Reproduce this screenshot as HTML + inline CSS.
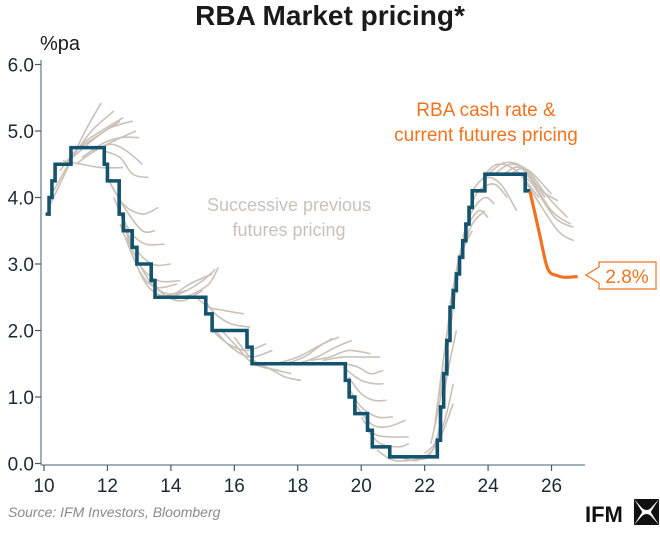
<!DOCTYPE html>
<html><head><meta charset="utf-8"><style>
body{margin:0;background:#fff;width:660px;height:528px;overflow:hidden;font-family:"Liberation Sans",sans-serif}
</style></head><body>
<svg width="660" height="528" viewBox="0 0 660 528" font-family="Liberation Sans, sans-serif">
<text x="330" y="25" text-anchor="middle" font-size="28" font-weight="bold" fill="#1a1a1a">RBA Market pricing*</text>
<text x="40" y="50" font-size="20" fill="#1a1a1a">%pa</text>
<g id="grey"></g>
<g id="axes"></g>
<g id="main"></g>
<text x="289" y="211" text-anchor="middle" font-size="18" fill="#cbc1b8">Successive previous</text>
<text x="289" y="236" text-anchor="middle" font-size="18" fill="#cbc1b8">futures pricing</text>
<text x="486" y="116" text-anchor="middle" font-size="19" fill="#f07320">RBA cash rate &amp;</text>
<text x="486" y="141" text-anchor="middle" font-size="19" fill="#f07320">current futures pricing</text>
<g>
<path d="M586,275 L599,267 L599,262 L656,262 L656,289 L599,289 L599,283 Z" fill="#fff" stroke="#f07320" stroke-width="1.2"/>
<text x="627" y="283" text-anchor="middle" font-size="19" fill="#f07320">2.8%</text>
</g>
<text x="8" y="517" font-size="14" font-style="italic" fill="#8a8a8a">Source: IFM Investors, Bloomberg</text>
<g>
<text x="585" y="522" font-size="22" font-weight="bold" fill="#111">IFM</text>
<path d="M634,499 L659,499 L651,508 Q646.5,512 642,508 Z M634,525 L659,525 L651,516 Q646.5,512 642,516 Z M634,499 L634,525 L641,514 Q643,512 641,510 Z M659,499 L659,525 L652,514 Q650,512 652,510 Z" fill="#111"/>
</g>
</svg>
<script>
const yTicks=[0,1,2,3,4,5,6];
const xTicks=[10,12,14,16,18,20,22,24,26];
const stepYears=[10.05,10.16,10.25,10.35,10.85,11.9,12.0,12.37,12.5,12.78,12.93,13.38,13.5,15.1,15.3,16.4,16.56,19.5,19.62,19.8,20.2,20.35,20.9,22.4,22.5,22.6,22.7,22.8,22.9,23.0,23.1,23.2,23.3,23.4,23.5,23.9,25.17,25.33];
const stepRates=[3.75,4.0,4.25,4.5,4.75,4.5,4.25,3.75,3.5,3.25,3.0,2.75,2.5,2.25,2.0,1.75,1.5,1.25,1.0,0.75,0.5,0.25,0.1,0.35,0.85,1.35,1.85,2.35,2.6,2.85,3.1,3.35,3.6,3.85,4.1,4.35,4.1,4.1];
const futYears=[25.33,25.6,25.82,25.96,26.15,26.4,26.78];
const futRates=[4.07,3.5,3.02,2.87,2.83,2.8,2.81];
const greyCurves=[
[[10.2,3.9],[10.8,4.5],[11.3,5.0],[11.8,5.42]],
[[10.3,4.1],[10.9,4.6],[11.5,5.0],[12.2,5.3]],
[[10.5,4.4],[11.0,4.7],[11.6,4.9],[12.4,5.15]],
[[10.7,4.5],[11.2,4.8],[11.8,5.0],[12.5,5.2]],
[[10.9,4.6],[11.5,4.85],[12.1,5.05],[12.8,5.15]],
[[11.0,4.5],[11.6,4.7],[12.2,4.85],[12.9,5.0]],
[[11.2,4.6],[11.8,4.8],[12.4,4.9],[13.0,4.9]],
[[10.6,4.55],[11.2,4.5],[11.8,4.45],[12.5,4.45]],
[[11.5,4.7],[12.1,4.8],[12.6,4.7],[13.1,4.5]],
[[11.9,4.7],[12.4,4.6],[12.8,4.35],[13.3,4.3]],
[[12.0,4.3],[12.5,3.9],[13.1,3.75],[13.6,3.85]],
[[12.1,4.2],[12.6,3.8],[13.1,3.5],[13.5,3.5]],
[[12.2,4.0],[12.7,3.5],[13.2,3.3],[13.8,3.3]],
[[12.3,3.9],[12.8,3.3],[13.4,3.0],[14.0,3.0]],
[[12.5,3.6],[13.0,3.0],[13.6,2.75],[14.3,2.75]],
[[12.6,3.4],[13.0,2.9],[13.5,2.65],[14.2,2.7]],
[[12.4,3.6],[12.9,3.0],[13.3,2.65],[13.8,2.5]],
[[13.0,3.0],[13.4,2.7],[13.9,2.55],[14.5,2.6]],
[[13.4,2.7],[13.9,2.5],[14.4,2.45],[15.0,2.6]],
[[13.6,2.5],[14.1,2.55],[14.6,2.7],[15.3,2.85]],
[[14.0,2.5],[14.5,2.6],[15.0,2.75],[15.4,2.92]],
[[14.3,2.5],[14.7,2.55],[15.2,2.7],[15.5,2.95]],
[[14.8,2.5],[15.2,2.35],[15.7,2.3],[16.3,2.25]],
[[15.0,2.5],[15.4,2.25],[15.9,2.1],[16.5,2.05]],
[[15.3,2.0],[15.8,1.8],[16.4,1.7],[17.0,1.8]],
[[15.4,2.0],[15.9,1.75],[16.5,1.6],[17.2,1.7]],
[[15.6,2.0],[16.0,1.8],[16.6,1.5],[17.4,1.4]],
[[16.0,1.9],[16.5,1.6],[17.0,1.45],[17.8,1.35]],
[[16.5,1.5],[17.0,1.45],[17.6,1.3],[18.1,1.25]],
[[17.3,1.5],[18.0,1.6],[18.6,1.75],[19.1,1.88]],
[[17.6,1.5],[18.2,1.6],[18.8,1.8],[19.3,1.9]],
[[18.0,1.5],[18.6,1.6],[19.2,1.75],[19.7,1.85]],
[[18.4,1.55],[19.0,1.6],[19.6,1.7],[20.3,1.65]],
[[18.8,1.55],[19.4,1.6],[20.0,1.6],[20.6,1.6]],
[[19.5,1.5],[19.9,1.45],[20.3,1.35],[20.7,1.4]],
[[19.55,1.4],[20.0,1.25],[20.4,1.2],[20.7,1.2]],
[[19.6,1.3],[20.0,1.05],[20.4,0.95],[20.8,0.95]],
[[19.65,1.1],[20.0,0.85],[20.5,0.7],[21.0,0.7]],
[[19.8,0.9],[20.3,0.6],[20.8,0.55],[21.4,0.65]],
[[20.0,0.7],[20.4,0.45],[20.9,0.4],[21.5,0.4]],
[[20.2,0.5],[20.6,0.3],[21.2,0.25],[21.5,0.3]],
[[20.5,0.2],[21.0,0.05],[21.6,0.05],[22.1,0.1]],
[[21.2,0.1],[21.8,0.05],[22.4,0.3],[22.9,0.9]],
[[21.6,0.1],[22.1,0.1],[22.6,0.6],[22.9,1.2]],
[[22.0,0.15],[22.4,0.4],[22.7,1.3],[23.0,2.0]],
[[22.2,0.3],[22.5,1.0],[22.8,2.0],[23.05,2.8]],
[[22.3,0.5],[22.6,1.6],[22.9,2.5],[23.2,3.2]],
[[22.45,1.0],[22.75,2.1],[23.1,3.0],[23.4,3.5]],
[[22.6,1.6],[22.9,2.6],[23.2,3.2],[23.5,3.5]],
[[22.8,2.4],[23.1,3.1],[23.5,3.6],[23.9,3.8]],
[[23.0,2.9],[23.3,3.5],[23.7,3.8],[24.0,3.7]],
[[23.2,3.4],[23.5,3.8],[23.9,4.0],[24.2,3.9]],
[[23.4,3.8],[23.7,4.1],[24.2,4.2],[24.6,4.0]],
[[23.5,4.1],[23.9,4.3],[24.4,4.2],[24.9,3.8]],
[[23.9,4.35],[24.3,4.5],[24.9,4.4],[25.6,4.0]],
[[24.0,4.35],[24.5,4.52],[25.1,4.45],[25.8,4.0]],
[[24.2,4.35],[24.7,4.5],[25.3,4.4],[26.0,4.05]],
[[24.5,4.35],[25.0,4.45],[25.7,4.1],[26.2,3.95]],
[[24.7,4.35],[25.2,4.42],[25.9,4.0],[26.5,3.7]],
[[24.9,4.35],[25.3,4.3],[26.0,3.8],[26.6,3.6]],
[[25.0,4.35],[25.4,4.2],[26.1,3.7],[26.7,3.55]],
[[25.1,4.3],[25.5,4.0],[26.2,3.5],[26.7,3.35]]
];
const X=t=>44+(t-10)*31.72, Y=r=>463.5-r*66.5;
const NS='http://www.w3.org/2000/svg';
function mk(tag,attrs,parent){const e=document.createElementNS(NS,tag);for(const k in attrs)e.setAttribute(k,attrs[k]);parent.appendChild(e);return e;}
const axes=document.getElementById('axes');
const ya=mk('line',{x1:41,y1:60,x2:41,y2:465,stroke:'#7f95a0','stroke-width':1.5},axes);


const xa=mk('line',{x1:41,y1:465,x2:585,y2:465,stroke:'#7f95a0','stroke-width':1.5},axes);


yTicks.forEach(v=>{
 mk('line',{x1:35,x2:41,y1:Y(v),y2:Y(v),stroke:'#555','stroke-width':1.2},axes);
 const t=mk('text',{x:34,y:Y(v)+7,'text-anchor':'end','font-size':19,fill:'#1a2a35'},axes);
 t.textContent=v.toFixed(1);
 
 
});
xTicks.forEach(v=>{
 mk('line',{x1:X(v),x2:X(v),y1:465,y2:471,stroke:'#555','stroke-width':1.2},axes);
 const t=mk('text',{x:X(v),y:492,'text-anchor':'middle','font-size':19,fill:'#1a2a35'},axes);
 t.textContent=String(v);
 
 
});
function smooth(pts){let d='M'+pts[0][0]+','+pts[0][1];for(let i=0;i<pts.length-1;i++){const p0=pts[i-1]||pts[i],p1=pts[i],p2=pts[i+1],p3=pts[i+2]||p2;d+=' C'+(p1[0]+(p2[0]-p0[0])/6)+','+(p1[1]+(p2[1]-p0[1])/6)+' '+(p2[0]-(p3[0]-p1[0])/6)+','+(p2[1]-(p3[1]-p1[1])/6)+' '+p2[0]+','+p2[1];}return d;}
const grey=document.getElementById('grey');
greyCurves.forEach(c=>{
 const p=mk('path',{d:smooth(c.map(q=>[X(q[0]),Y(q[1])])),fill:'none',stroke:'#cbc1b8','stroke-width':1.6},grey);
 
 
});
const main=document.getElementById('main');
let d='M'+X(10.05)+','+Y(stepRates[0]);
d+=' H'+X(stepYears[0]);
for(let i=1;i<stepYears.length;i++){d+=' H'+X(stepYears[i])+' V'+Y(stepRates[i]);}
const sp=mk('path',{d:d,fill:'none',stroke:'#13536e','stroke-width':3.6,'stroke-linejoin':'miter'},main);


const fp=mk('path',{d:smooth(futYears.map((t,i)=>[X(t),Y(futRates[i])])),fill:'none',stroke:'#f07320','stroke-width':3.2,'stroke-linecap':'round'},main);


</script>
</body></html>
